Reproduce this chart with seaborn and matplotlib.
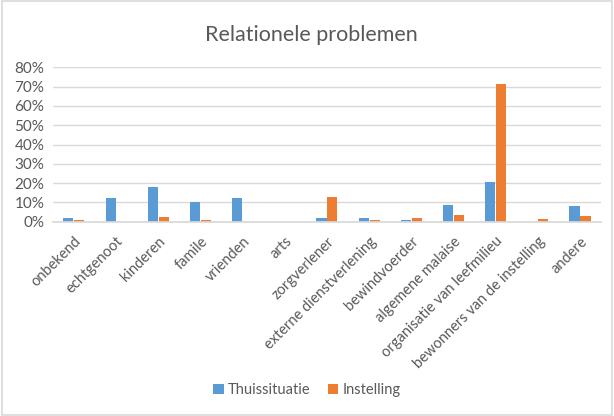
import matplotlib
matplotlib.use("Agg")
import matplotlib.pyplot as plt
import seaborn as sns
import pandas as pd
from matplotlib.ticker import PercentFormatter
from matplotlib.patches import Rectangle

categories = ["onbekend", "echtgenoot", "kinderen", "famile", "vrienden", "arts",
              "zorgverlener", "externe dienstverlening", "bewindvoerder",
              "algemene malaise", "organisatie van leefmilieu",
              "bewonners van de instelling", "andere"]
thuissituatie = [0.021, 0.121, 0.180, 0.104, 0.121, 0.0, 0.021, 0.021, 0.008,
                 0.087, 0.204, 0.0, 0.080]
instelling = [0.009, 0.0, 0.026, 0.009, 0.0, 0.0, 0.126, 0.008, 0.017,
              0.033, 0.715, 0.012, 0.030]
series_names = ["Thuissituatie", "Instelling"]
yticks = [0.0, 0.1, 0.2, 0.3, 0.4, 0.5, 0.6, 0.7, 0.8]

df = pd.DataFrame({
    "categorie": categories * 2,
    "waarde": thuissituatie + instelling,
    "reeks": [series_names[0]] * len(categories) + [series_names[1]] * len(categories),
})

sns.set_theme(style="white")
plt.rcParams["font.family"] = ["Lato", "DejaVu Sans"]

fig = plt.figure(figsize=(6.14, 4.16), dpi=100)
ax = fig.add_axes([0.086, 0.467, 0.893, 0.371])

sns.barplot(data=df, x="categorie", y="waarde", hue="reeks", ax=ax,
            palette=["#5B9BD5", "#ED7D31"], width=0.52, gap=0.08,
            edgecolor="none", saturation=1)

ax.set_ylim(0, 0.8)
ax.set_yticks(yticks)
ax.yaxis.set_major_formatter(PercentFormatter(1.0, decimals=0))
ax.grid(axis="y", color="#d9d9d9", linewidth=1)
ax.set_axisbelow(True)
for s in ["top", "right", "left"]:
    ax.spines[s].set_visible(False)
ax.spines["bottom"].set_color("#d9d9d9")
ax.set_xlabel("")
ax.set_ylabel("")
ax.tick_params(axis="y", length=0, labelsize=11, colors="#595959", pad=6)
ax.tick_params(axis="x", length=0, labelsize=10.5, colors="#595959", pad=9)
plt.setp(ax.get_xticklabels(), rotation=45, ha="right", rotation_mode="anchor")

fig.text(311 / 614, 1 - 35 / 416, "Relationele problemen", fontsize=15.5,
         color="#595959", ha="center", va="center")

leg = ax.get_legend()
handles = leg.legend_handles
leg.remove()
fig.legend(handles=handles, labels=series_names, loc="center",
           bbox_to_anchor=(0.5, 1 - 390 / 416), ncol=2, frameon=False, fontsize=10.5,
           handlelength=0.7, handleheight=0.7, handletextpad=0.3, columnspacing=1.2,
           labelcolor="#595959")

fig.patches.append(Rectangle((0.003, 0.003), 0.994, 0.994, transform=fig.transFigure,
                             fill=False, edgecolor="#d9d9d9", linewidth=1.2))

fig.savefig("out.png", dpi=100, facecolor="white")
